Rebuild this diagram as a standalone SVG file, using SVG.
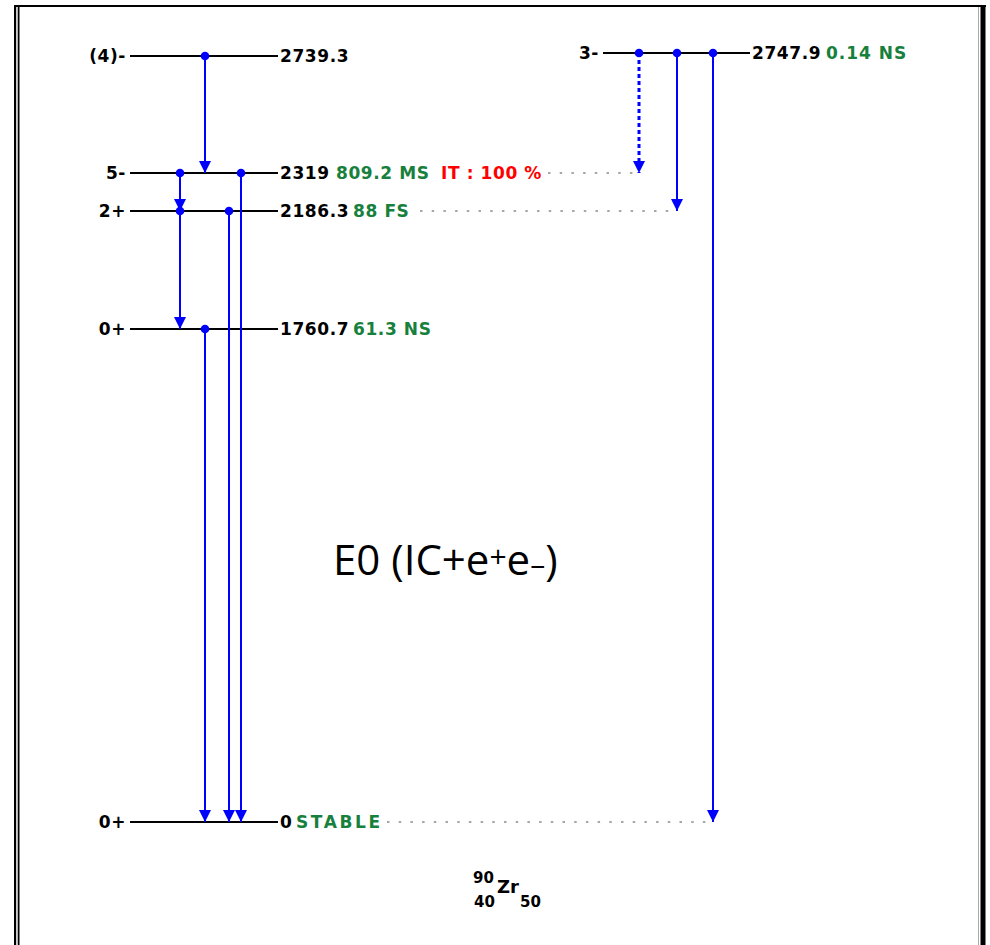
<svg xmlns="http://www.w3.org/2000/svg" width="990" height="945" viewBox="0 0 990 945">
  <style>
    .lvl { stroke: #000; stroke-width: 2; fill: none; }
    .t { font-family: "DejaVu Sans", "Liberation Sans", sans-serif; font-weight: bold; font-size: 17px; letter-spacing: 0.6px; fill: #000; }
    .g { fill: #16803c; }
    .r { fill: #ff0000; }
    .gr { stroke: #8a8a8a; stroke-width: 1.5; stroke-dasharray: 2.5 9.2; fill: none; }
    .tr { stroke: #0000ff; stroke-width: 2; fill: none; marker-start: url(#dot); marker-end: url(#arr); }
    .dash { stroke-width: 3; stroke-dasharray: 4 3; }
  </style>
  <defs>
    <marker id="arr" viewBox="0 0 12 12" refX="12" refY="6" markerWidth="12" markerHeight="12" markerUnits="userSpaceOnUse" orient="auto">
      <path d="M0,0 L12,6 L0,12 z" fill="#0000ff"/>
    </marker>
    <marker id="dot" viewBox="0 0 10 10" refX="5" refY="5" markerWidth="10" markerHeight="10" markerUnits="userSpaceOnUse">
      <circle cx="5" cy="5" r="4.3" fill="#0000ff"/>
    </marker>
  </defs>
  <rect width="990" height="945" fill="#fff"/>
  <g id="frame" fill="none">
    <line x1="14" y1="6" x2="986" y2="6" stroke="#000" stroke-width="2"/>
    <line x1="15" y1="5" x2="15" y2="945" stroke="#000" stroke-width="2"/>
    <line x1="17" y1="7" x2="17" y2="945" stroke="#999" stroke-width="1"/>
    <line x1="18.7" y1="7" x2="18.7" y2="945" stroke="#000" stroke-width="1.6"/>
    <line x1="978.5" y1="7" x2="978.5" y2="945" stroke="#aaa" stroke-width="1"/>
    <line x1="983" y1="5" x2="983" y2="945" stroke="#000" stroke-width="5"/>
  </g>

  <g id="level-2739">
    <line class="lvl" x1="130" y1="56" x2="278" y2="56"/>
    <text class="t" x="126" y="62" text-anchor="end">(4)-</text>
    <text class="t" x="280" y="62">2739.3</text>
  </g>
  <g id="level-2319">
    <line class="lvl" x1="130" y1="173" x2="278" y2="173"/>
    <text class="t" x="126" y="179" text-anchor="end">5-</text>
    <text class="t" x="280" y="179">2319</text>
    <text class="t g" x="336" y="179">809.2 MS</text>
    <text class="t r" x="441" y="179">IT : 100 %</text>
  </g>
  <g id="level-2186">
    <line class="lvl" x1="130" y1="211" x2="278" y2="211"/>
    <text class="t" x="126" y="217" text-anchor="end">2+</text>
    <text class="t" x="280" y="217">2186.3</text>
    <text class="t g" x="353" y="217">88 FS</text>
  </g>
  <g id="level-1760">
    <line class="lvl" x1="130" y1="329" x2="278" y2="329"/>
    <text class="t" x="126" y="335" text-anchor="end">0+</text>
    <text class="t" x="280" y="335">1760.7</text>
    <text class="t g" x="353" y="335">61.3 NS</text>
  </g>
  <g id="level-0">
    <line class="lvl" x1="130" y1="822" x2="278" y2="822"/>
    <text class="t" x="126" y="828" text-anchor="end">0+</text>
    <text class="t" x="280" y="828">0</text>
    <text class="t g" x="296" y="828" style="letter-spacing:2.6px">STABLE</text>
  </g>
  <g id="level-2747">
    <line class="lvl" x1="603" y1="53" x2="750" y2="53"/>
    <text class="t" x="599" y="59" text-anchor="end">3-</text>
    <text class="t" x="752" y="59">2747.9</text>
    <text class="t g" x="826" y="59" style="letter-spacing:1px">0.14 NS</text>
  </g>

  <g id="connectors">
    <line class="gr" x1="387" y1="822" x2="713" y2="822"/>
    <line class="gr" x1="548" y1="173" x2="639" y2="173"/>
    <line class="gr" x1="420" y1="211" x2="677" y2="211"/>
    <line class="tr" x1="205" y1="56" x2="205" y2="173"/>
    <line class="tr" x1="180" y1="173" x2="180" y2="211"/>
    <line class="tr" x1="241" y1="173" x2="241" y2="822"/>
    <line class="tr" x1="180" y1="211" x2="180" y2="329"/>
    <line class="tr" x1="229" y1="211" x2="229" y2="822"/>
    <line class="tr" x1="205" y1="329" x2="205" y2="822"/>
    <line class="tr dash" x1="639" y1="53" x2="639" y2="173"/>
    <line class="tr" x1="677" y1="53" x2="677" y2="211"/>
    <line class="tr" x1="713" y1="53" x2="713" y2="822"/>
  </g>

  <g id="label-e0">
    <text x="333" y="575" font-family="'Open Sans', 'Noto Sans', sans-serif" font-size="42" fill="#000">E0 (IC+e<tspan font-size="30" dy="-8">+</tspan><tspan dy="8">e</tspan><tspan font-size="30">–</tspan>)</text>
  </g>
  <g id="nuclide" font-family="'DejaVu Sans', 'Liberation Sans', sans-serif" font-weight="bold" fill="#000">
    <text x="473" y="883" font-size="15">90</text>
    <text x="474" y="907" font-size="15">40</text>
    <text x="497" y="893" font-size="18">Zr</text>
    <text x="520" y="907" font-size="15">50</text>
  </g>
</svg>
